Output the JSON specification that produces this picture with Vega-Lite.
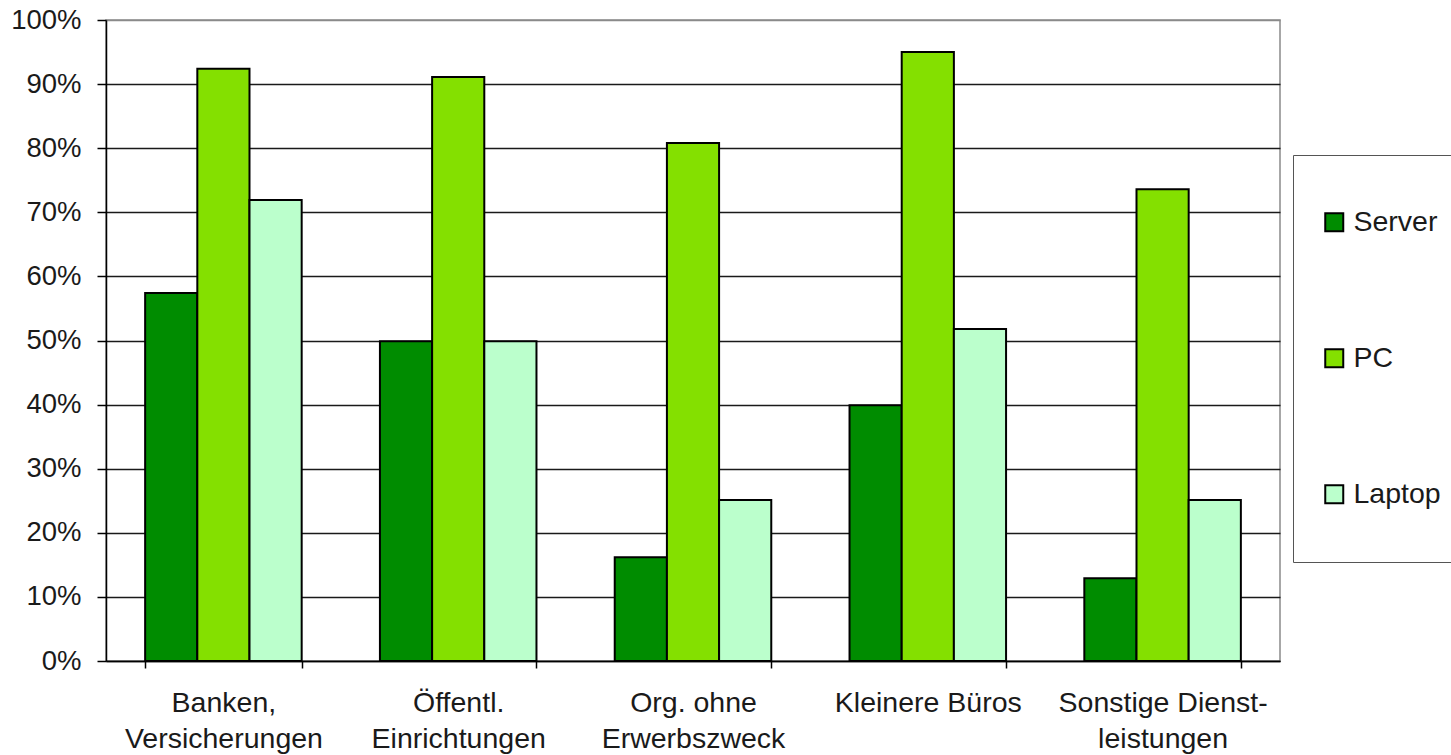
{
  "$schema": "https://vega.github.io/schema/vega-lite/v6.json",
  "autosize": {"type": "none"},
  "padding": {"left": 106, "top": 20, "right": 171, "bottom": 94},
  "width": 1174,
  "height": 641,
  "background": "white",
  "data": {
    "values": [
      {"bereich": "Banken,\nVersicherungen", "geraet": "Server", "anteil": 0.574},
      {"bereich": "Banken,\nVersicherungen", "geraet": "PC", "anteil": 0.924},
      {"bereich": "Banken,\nVersicherungen", "geraet": "Laptop", "anteil": 0.719},
      {"bereich": "Öffentl.\nEinrichtungen", "geraet": "Server", "anteil": 0.499},
      {"bereich": "Öffentl.\nEinrichtungen", "geraet": "PC", "anteil": 0.911},
      {"bereich": "Öffentl.\nEinrichtungen", "geraet": "Laptop", "anteil": 0.499},
      {"bereich": "Org. ohne\nErwerbszweck", "geraet": "Server", "anteil": 0.162},
      {"bereich": "Org. ohne\nErwerbszweck", "geraet": "PC", "anteil": 0.808},
      {"bereich": "Org. ohne\nErwerbszweck", "geraet": "Laptop", "anteil": 0.251},
      {"bereich": "Kleinere Büros", "geraet": "Server", "anteil": 0.399},
      {"bereich": "Kleinere Büros", "geraet": "PC", "anteil": 0.950},
      {"bereich": "Kleinere Büros", "geraet": "Laptop", "anteil": 0.518},
      {"bereich": "Sonstige Dienst-\nleistungen", "geraet": "Server", "anteil": 0.129},
      {"bereich": "Sonstige Dienst-\nleistungen", "geraet": "PC", "anteil": 0.736},
      {"bereich": "Sonstige Dienst-\nleistungen", "geraet": "Laptop", "anteil": 0.251}
    ]
  },
  "mark": {"type": "bar", "stroke": "#000000", "strokeWidth": 2},
  "encoding": {
    "x": {
      "field": "bereich",
      "type": "nominal",
      "sort": null,
      "title": null,
      "scale": {"paddingInner": 0.3333, "paddingOuter": 0.1667},
      "axis": {
        "labelAngle": 0,
        "labelExpr": "split(datum.label, '\\n')",
        "labelFont": "Liberation Sans",
        "labelFontSize": 28.5,
        "labelColor": "#1a1a1a",
        "labelLineHeight": 36,
        "labelPadding": 20,
        "labelBaseline": "top",
        "labelLimit": 400,
        "tickBand": "extent",
        "tickSize": 7,
        "tickColor": "#000000",
        "tickWidth": 1.5,
        "domainColor": "#000000",
        "domainWidth": 1.5
      }
    },
    "xOffset": {
      "field": "geraet",
      "type": "nominal",
      "sort": ["Server", "PC", "Laptop"]
    },
    "y": {
      "field": "anteil",
      "type": "quantitative",
      "title": null,
      "scale": {"domain": [0, 1], "nice": false},
      "axis": {
        "format": ".0%",
        "values": [0, 0.1, 0.2, 0.3, 0.4, 0.5, 0.6, 0.7, 0.8, 0.9, 1],
        "labelFont": "Liberation Sans",
        "labelFontSize": 27.5,
        "labelColor": "#1a1a1a",
        "labelPadding": 16,
        "tickSize": 9,
        "tickColor": "#000000",
        "tickWidth": 1.5,
        "domainColor": "#000000",
        "domainWidth": 1.5,
        "grid": true,
        "gridColor": {"condition": {"test": "datum.value >= 1", "value": "#8a8a8a"}, "value": "#1a1a1a"},
        "gridWidth": 1.5
      }
    },
    "color": {
      "field": "geraet",
      "type": "nominal",
      "sort": ["Server", "PC", "Laptop"],
      "scale": {"domain": ["Server", "PC", "Laptop"], "range": ["#008c00", "#84e000", "#bbffcc"]},
      "legend": {
        "title": null,
        "orient": "none",
        "legendX": 1187,
        "legendY": 135,
        "padding": 53,
        "symbolOffset": -26,
        "strokeColor": "#555555",
        "symbolType": "square",
        "symbolSize": 324,
        "symbolStrokeColor": "#000000",
        "symbolStrokeWidth": 2,
        "labelFont": "Liberation Sans",
        "labelFontSize": 28.5,
        "labelColor": "#1a1a1a",
        "labelOffset": 5,
        "rowPadding": 107
      }
    }
  },
  "config": {
    "view": {"stroke": "#8a8a8a", "strokeWidth": 1.5}
  }
}
